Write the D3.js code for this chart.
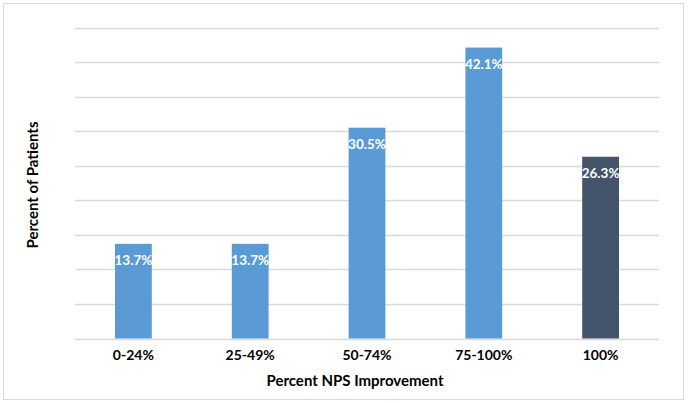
<!DOCTYPE html>
<html>
<head>
<meta charset="utf-8">
<script src="https://cdn.jsdelivr.net/npm/d3@7"></script>
<style>
    body { margin: 0; background: #fff; }
    svg text { font-family: Lato, "Open Sans", sans-serif; font-weight: bold; }
</style>
</head>
<body>
<div id="chart-container"></div>
<script>
// chart data
const categories = ["0-24%", "25-49%", "50-74%", "75-100%", "100%"];
const values = [13.7, 13.7, 30.5, 42.1, 26.3];
const barColors = ["#5B9BD5", "#5B9BD5", "#5B9BD5", "#5B9BD5", "#44546A"];
const yTicks = [0, 5, 10, 15, 20, 25, 30, 35, 40, 45];

const width = 688;
const height = 403;
const margin = { top: 27.5, right: 29, bottom: 64.5, left: 75 };

const svg = d3.select("#chart-container").append("svg")
    .attr("width", width)
    .attr("height", height);

// chart border
svg.append("rect")
    .attr("x", 3.5).attr("y", 3.5)
    .attr("width", 680).attr("height", 396)
    .attr("fill", "#fff")
    .attr("stroke", "#D9D9D9")
    .attr("stroke-width", 1);

const x = d3.scaleBand()
    .domain(categories)
    .range([margin.left, width - margin.right])
    .paddingInner(0.685)
    .paddingOuter(0.3425);

const y = d3.scaleLinear()
    .domain([0, 45])
    .range([height - margin.bottom, margin.top]);

// gridlines
svg.append("g")
    .selectAll("line")
    .data(yTicks)
    .enter().append("line")
    .attr("x1", margin.left)
    .attr("x2", width - margin.right)
    .attr("y1", d => Math.round(y(d)) + 0.5)
    .attr("y2", d => Math.round(y(d)) + 0.5)
    .attr("stroke", "#D9D9D9")
    .attr("stroke-width", 1.3);

// bars
svg.append("g")
    .selectAll("rect")
    .data(values)
    .enter().append("rect")
    .attr("x", (d, i) => x(categories[i]))
    .attr("y", d => y(d))
    .attr("width", x.bandwidth())
    .attr("height", d => y(0) - y(d))
    .attr("fill", (d, i) => barColors[i]);

// value labels
svg.append("g")
    .selectAll("text")
    .data(values)
    .enter().append("text")
    .attr("x", (d, i) => x(categories[i]) + x.bandwidth() / 2)
    .attr("y", d => y(d) + 21)
    .attr("text-anchor", "middle")
    .style("font-size", "13.5px")
    .style("fill", "#fff")
    .text(d => d.toFixed(1) + "%");

// x axis labels
const xAxis = d3.axisBottom(x).tickSize(0).tickPadding(0);
svg.append("g")
    .attr("transform", `translate(0, ${y(0) + 12})`)
    .call(xAxis)
    .call(g => g.select(".domain").remove())
    .selectAll("text")
    .style("font-size", "14px")
    .style("fill", "#000");

// axis titles
svg.append("text")
    .attr("x", 355)
    .attr("y", 386)
    .attr("text-anchor", "middle")
    .style("font-size", "15px")
    .style("fill", "#000")
    .text("Percent NPS Improvement");

svg.append("text")
    .attr("transform", "translate(38, 185) rotate(-90)")
    .attr("text-anchor", "middle")
    .style("font-size", "15px")
    .style("fill", "#000")
    .text("Percent of Patients");
</script>
</body>
</html>
